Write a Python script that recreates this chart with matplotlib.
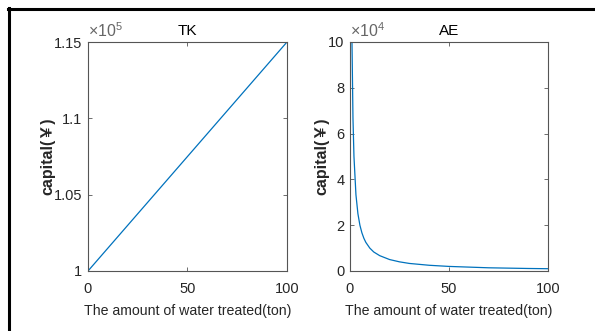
import matplotlib
matplotlib.use("Agg")
import matplotlib.pyplot as plt
from matplotlib.lines import Line2D
from matplotlib.ticker import FuncFormatter

# TK: capital vs. water treated (straight line)
tk_x = [0, 100]
tk_y = [100000, 115000]

# AE: capital vs. water treated (falls off fast)
ae_x = [1, 1.5, 2, 3, 4, 5, 6, 7, 8, 10, 12, 15, 20, 25, 30, 40, 50, 60, 70, 80, 90, 100]
ae_y = [100000, 66700, 50000, 33300, 25000, 20000, 16700, 14300, 12500, 10000, 8300,
        6700, 5000, 4000, 3300, 2500, 2000, 1700, 1400, 1250, 1100, 1000]

tk_yticks = [100000, 105000, 110000, 115000]
ae_yticks = [0, 20000, 40000, 60000, 80000, 100000]
xticks = [0, 50, 100]

plt.rcParams['font.family'] = ['Liberation Sans', 'Noto Sans CJK SC']
plt.rcParams['mathtext.fontset'] = 'custom'
plt.rcParams['mathtext.rm'] = 'Liberation Sans'

blue = '#0072BD'
frame = '#555555'
txt = '#262626'

fig = plt.figure(figsize=(5.95, 3.31), dpi=100)

W, H = 595.0, 331.0
ax1 = fig.add_axes([88 / W, 1 - 271 / H, (287 - 88) / W, (271 - 42) / H])
ax2 = fig.add_axes([350 / W, 1 - 271 / H, (548 - 350) / W, (271 - 42) / H])


def style(ax, title, yticks, scale, power):
    ax.set_xlim(0, 100)
    ax.set_ylim(yticks[0], yticks[-1])
    ax.set_xticks(xticks)
    ax.set_yticks(yticks)
    ax.yaxis.set_major_formatter(FuncFormatter(lambda v, p: '%g' % round(v / scale, 4)))
    ax.tick_params(direction='in', length=3, width=0.6, colors=frame,
                   labelcolor=txt, labelsize=10.5, top=True, right=True)
    ax.tick_params(axis='x', pad=8)
    ax.tick_params(axis='y', pad=4)
    for s in ax.spines.values():
        s.set_color(frame)
        s.set_linewidth(0.8)
    ax.set_title(title, fontsize=11, color='black', pad=5)
    ax.set_xlabel('The amount of water treated(ton)', fontsize=10.2, color=txt, labelpad=6)
    ax.set_ylabel('capital(￥)', fontsize=11.5, color=txt, fontweight='bold', labelpad=-1)
    ax.text(0.0, 1.01, r'$\times10^{%d}$' % power, transform=ax.transAxes,
            fontsize=11.5, color='#666666', ha='left', va='bottom')


ax1.plot(tk_x, tk_y, color=blue, linewidth=0.9)
style(ax1, 'TK', tk_yticks, 1e5, 5)

ax2.plot(ae_x, ae_y, color=blue, linewidth=0.9)
style(ax2, 'AE', ae_yticks, 1e4, 4)

# black frame lines at top and left of the picture
fig.add_artist(Line2D([9 / W, 9 / W], [0, 1 - 8 / H], color='black', linewidth=2.2))
fig.add_artist(Line2D([8 / W, 1], [1 - 9 / H, 1 - 9 / H], color='black', linewidth=2.2))

fig.savefig('out.png', dpi=100)
